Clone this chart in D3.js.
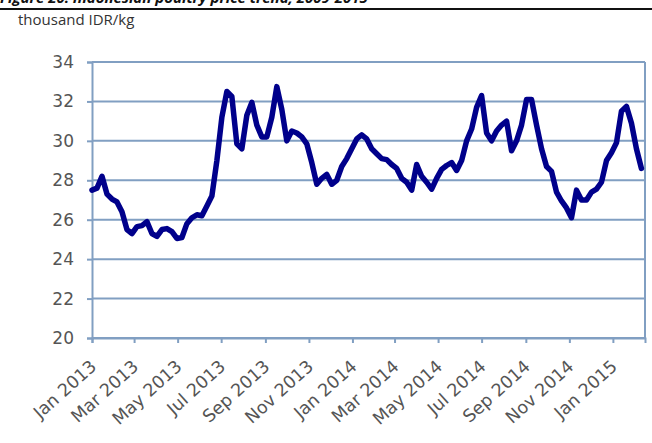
<!DOCTYPE html>
<html>
<head>
<meta charset="utf-8">
<script src="https://cdn.jsdelivr.net/npm/d3@7"></script>
<style>
  body { margin: 0; background: #fff; }
  svg { display: block; font-family: "DejaVu Sans", Verdana, sans-serif; }
</style>
</head>
<body>
<div id="chart"></div>
<script>
// weekly poultry price, thousand IDR/kg, first reading on 1 Jan 2013
const startDate = new Date(2013, 0, 1);
const prices = [
  27.5, 27.6, 28.2, 27.3, 27.05, 26.9, 26.4, 25.5, 25.3, 25.65,
  25.7, 25.9, 25.3, 25.15, 25.5, 25.55, 25.4, 25.05, 25.1, 25.8,
  26.1, 26.25, 26.2, 26.7, 27.2, 29.0, 31.2, 32.5, 32.25, 29.85,
  29.6, 31.3, 31.95, 30.8, 30.2, 30.2, 31.2, 32.75, 31.6, 30.0,
  30.5, 30.4, 30.2, 29.85, 28.9, 27.8, 28.1, 28.3, 27.8, 28.0,
  28.7, 29.1, 29.6, 30.1, 30.3, 30.1, 29.6, 29.35, 29.1, 29.05,
  28.8, 28.6, 28.1, 27.9, 27.5, 28.8, 28.2, 27.9, 27.55, 28.1,
  28.55, 28.75, 28.9, 28.5, 29.0, 30.0, 30.6, 31.7, 32.3, 30.4,
  30.0, 30.5, 30.8, 31.0, 29.5, 30.0, 30.8, 32.1, 32.1, 30.8,
  29.6, 28.7, 28.45, 27.4, 26.95, 26.6, 26.1, 27.5, 27.0, 27.0,
  27.4, 27.55, 27.9, 29.0, 29.4, 29.9, 31.5, 31.75, 30.9, 29.6,
  28.6
];
const yTicks = [20, 22, 24, 26, 28, 30, 32, 34];
const title = "Figure 20: Indonesian poultry price trend, 2009-2015";
const unitLabel = "thousand IDR/kg";

const data = prices.map((v, i) => ({ date: d3.timeWeek.offset(startDate, i), value: v }));

const width = 652, height = 443;
const margin = { top: 62, right: 7, bottom: 105, left: 92 };

const svg = d3.select("#chart").append("svg")
  .attr("width", width)
  .attr("height", height);

const x = d3.scaleTime()
  .domain([startDate, new Date(2015, 1, 15)])
  .range([margin.left, width - margin.right]);

const y = d3.scaleLinear()
  .domain([20, 34])
  .range([height - margin.bottom, margin.top]);

const gridColor = "#819fc2";

// title (mostly cut off at the top) and rule
svg.append("text")
  .attr("x", 0).attr("y", 3)
  .attr("font-family", "'Open Sans', sans-serif")
  .attr("font-size", 15)
  .attr("font-weight", "bold")
  .attr("font-style", "italic")
  .attr("fill", "#111")
  .text(title);

svg.append("line")
  .attr("x1", 0).attr("x2", width)
  .attr("y1", 9).attr("y2", 9)
  .attr("stroke", "#111")
  .attr("stroke-width", 2);

svg.append("text")
  .attr("x", 18).attr("y", 25)
  .attr("font-family", "'Open Sans', sans-serif")
  .attr("font-size", 15)
  .attr("fill", "#333")
  .text(unitLabel);

// horizontal gridlines
svg.append("g")
  .selectAll("line")
  .data(yTicks)
  .join("line")
    .attr("x1", margin.left).attr("x2", width - margin.right)
    .attr("y1", d => y(d)).attr("y2", d => y(d))
    .attr("stroke", gridColor)
    .attr("stroke-width", 2);

// right border of plot area
svg.append("line")
  .attr("x1", width - margin.right).attr("x2", width - margin.right)
  .attr("y1", y(34)).attr("y2", y(20))
  .attr("stroke", gridColor)
  .attr("stroke-width", 2);

// y axis
const yAxis = svg.append("g")
  .attr("transform", `translate(${margin.left},0)`)
  .call(d3.axisLeft(y).tickValues(yTicks).tickSize(5).tickPadding(13));
yAxis.select(".domain").attr("stroke", gridColor).attr("stroke-width", 2);
yAxis.selectAll(".tick line").attr("stroke", gridColor).attr("stroke-width", 2);
yAxis.selectAll(".tick text")
  .attr("font-size", 17)
  .attr("font-family", "'DejaVu Sans', sans-serif")
  .attr("fill", "#555");

// x axis, a label every second month
const xAxis = svg.append("g")
  .attr("transform", `translate(0,${y(20)})`)
  .call(d3.axisBottom(x)
    .ticks(d3.timeMonth.every(2))
    .tickFormat(d3.timeFormat("%b %Y"))
    .tickSize(5));
xAxis.select(".domain").attr("stroke", gridColor).attr("stroke-width", 2);
xAxis.selectAll(".tick line").attr("stroke", gridColor).attr("stroke-width", 2);
xAxis.selectAll(".tick text")
  .attr("font-size", 17.5)
  .attr("font-family", "'DejaVu Sans', sans-serif")
  .attr("fill", "#555")
  .attr("text-anchor", "end")
  .attr("dy", null)
  .attr("y", 0)
  .attr("transform", "translate(5,30) rotate(-42)");

// price line
const line = d3.line()
  .x(d => x(d.date))
  .y(d => y(d.value));

svg.append("path")
  .datum(data)
  .attr("fill", "none")
  .attr("stroke", "#00008b")
  .attr("stroke-width", 5.5)
  .attr("stroke-linejoin", "round")
  .attr("stroke-linecap", "round")
  .attr("d", line);
</script>
</body>
</html>
